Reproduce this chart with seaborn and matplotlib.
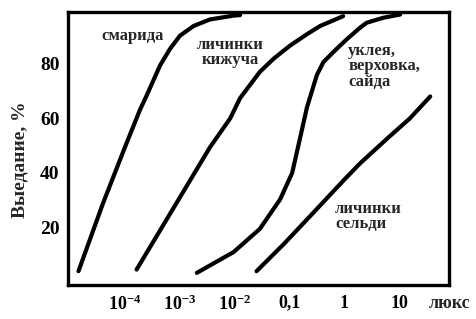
import numpy as np
import pandas as pd
import matplotlib
matplotlib.use('Agg')
import matplotlib.pyplot as plt
import seaborn as sns

# log10(lux) and feeding (%)
smarida_log = [-4.85, -4.40, -4.00, -3.73, -3.60, -3.36, -3.18, -3.00, -2.75, -2.45, -2.02, -1.90]
smarida_pct = [4.0, 29.0, 49.5, 63.0, 68.6, 79.4, 85.4, 90.2, 93.8, 96.2, 97.6, 97.8]

kizhuch_log = [-3.79, -3.06, -2.45, -2.08, -1.90, -1.54, -1.29, -0.99, -0.68, -0.44, -0.02]
kizhuch_pct = [4.6, 29.0, 49.4, 60.0, 67.4, 77.0, 81.8, 86.6, 90.8, 93.8, 97.4]

uklea_log = [-2.69, -2.02, -1.54, -1.17, -0.95, -0.82, -0.68, -0.50, -0.38, -0.14, 0.05, 0.29, 0.41, 0.71, 1.02]
uklea_pct = [3.4, 11.0, 19.5, 30.3, 40.0, 51.5, 64.0, 75.8, 80.6, 85.4, 89.0, 93.2, 95.0, 96.8, 98.0]

seldi_log = [-1.60, -1.10, -0.56, 0.00, 0.29, 0.78, 1.20, 1.57]
seldi_pct = [4.0, 14.0, 25.5, 37.5, 43.5, 52.5, 60.0, 68.0]

curve_names = ['смарида', 'кижуч', 'уклея', 'сельди']

x_ticks = [1e-4, 1e-3, 1e-2, 0.1, 1, 10]
x_tick_labels = [r'$10^{-4}$', r'$10^{-3}$', r'$10^{-2}$', '0,1', '1', '10']
y_ticks = [20, 40, 60, 80]

rows = []
for name, xs, ys in zip(curve_names,
                        [smarida_log, kizhuch_log, uklea_log, seldi_log],
                        [smarida_pct, kizhuch_pct, uklea_pct, seldi_pct]):
    for i, (lx, p) in enumerate(zip(xs, ys)):
        rows.append({'curve': name, 'order': i, 'lux': 10 ** lx, 'pct': p})
df = pd.DataFrame(rows)

sns.set_theme(style='white')
plt.rcParams['font.family'] = ['Liberation Serif', 'DejaVu Serif']
plt.rcParams['font.weight'] = 'bold'
plt.rcParams['mathtext.fontset'] = 'custom'
plt.rcParams['mathtext.rm'] = 'Liberation Serif:bold'
plt.rcParams['mathtext.it'] = 'Liberation Serif:bold'
plt.rcParams['mathtext.bf'] = 'Liberation Serif:bold'

fig = plt.figure(figsize=(4.76, 3.19), dpi=100)
ax = fig.add_axes([0.143, 0.107, 0.800, 0.856])

sns.lineplot(data=df, x='lux', y='pct', hue='curve', units='curve',
             estimator=None, sort=False, ax=ax, legend=False,
             palette=['black'] * 4, linewidth=3.0,
             solid_capstyle='round', solid_joinstyle='round')

ax.set_xscale('log')
ax.set_xlim(10 ** -5.04, 10 ** 1.91)
ax.set_ylim(-1, 99)
ax.set_xticks(x_ticks)
ax.set_xticklabels(x_tick_labels)
ax.xaxis.set_minor_locator(matplotlib.ticker.NullLocator())
ax.set_yticks(y_ticks)

for sp in ax.spines.values():
    sp.set_linewidth(2.4)
    sp.set_color('black')

ax.tick_params(axis='both', direction='in', length=3, width=2, colors='black',
               labelsize=13)
ax.tick_params(axis='x', pad=7)
ax.tick_params(axis='y', pad=6, labelsize=14)
for lab in ax.get_xticklabels() + ax.get_yticklabels():
    lab.set_fontweight('bold')

ax.set_xlabel('')
ax.set_ylabel('Выедание, %', fontsize=14, fontweight='bold')
ax.yaxis.set_label_coords(-0.105, 0.458)

# unit label sits on the tick-label row, right of the axes
fig.text(450 / 476, 1 - 304 / 319, 'люкс', ha='center', va='center',
         fontsize=13, fontweight='bold')

label_kw = dict(fontsize=12, fontweight='bold', linespacing=0.95)
ax.text(10 ** -3.87, 90, 'смарида', ha='center', va='center', **label_kw)
ax.text(10 ** -2.08, 84, 'личинки\nкижуча', ha='center', va='center', **label_kw)
ax.text(10 ** 0.07, 79, 'уклея,\nверховка,\nсайда', ha='left', va='center', **label_kw)
ax.text(10 ** -0.17, 24, 'личинки\nсельди', ha='left', va='center', **label_kw)

fig.savefig('out.png', dpi=100)
